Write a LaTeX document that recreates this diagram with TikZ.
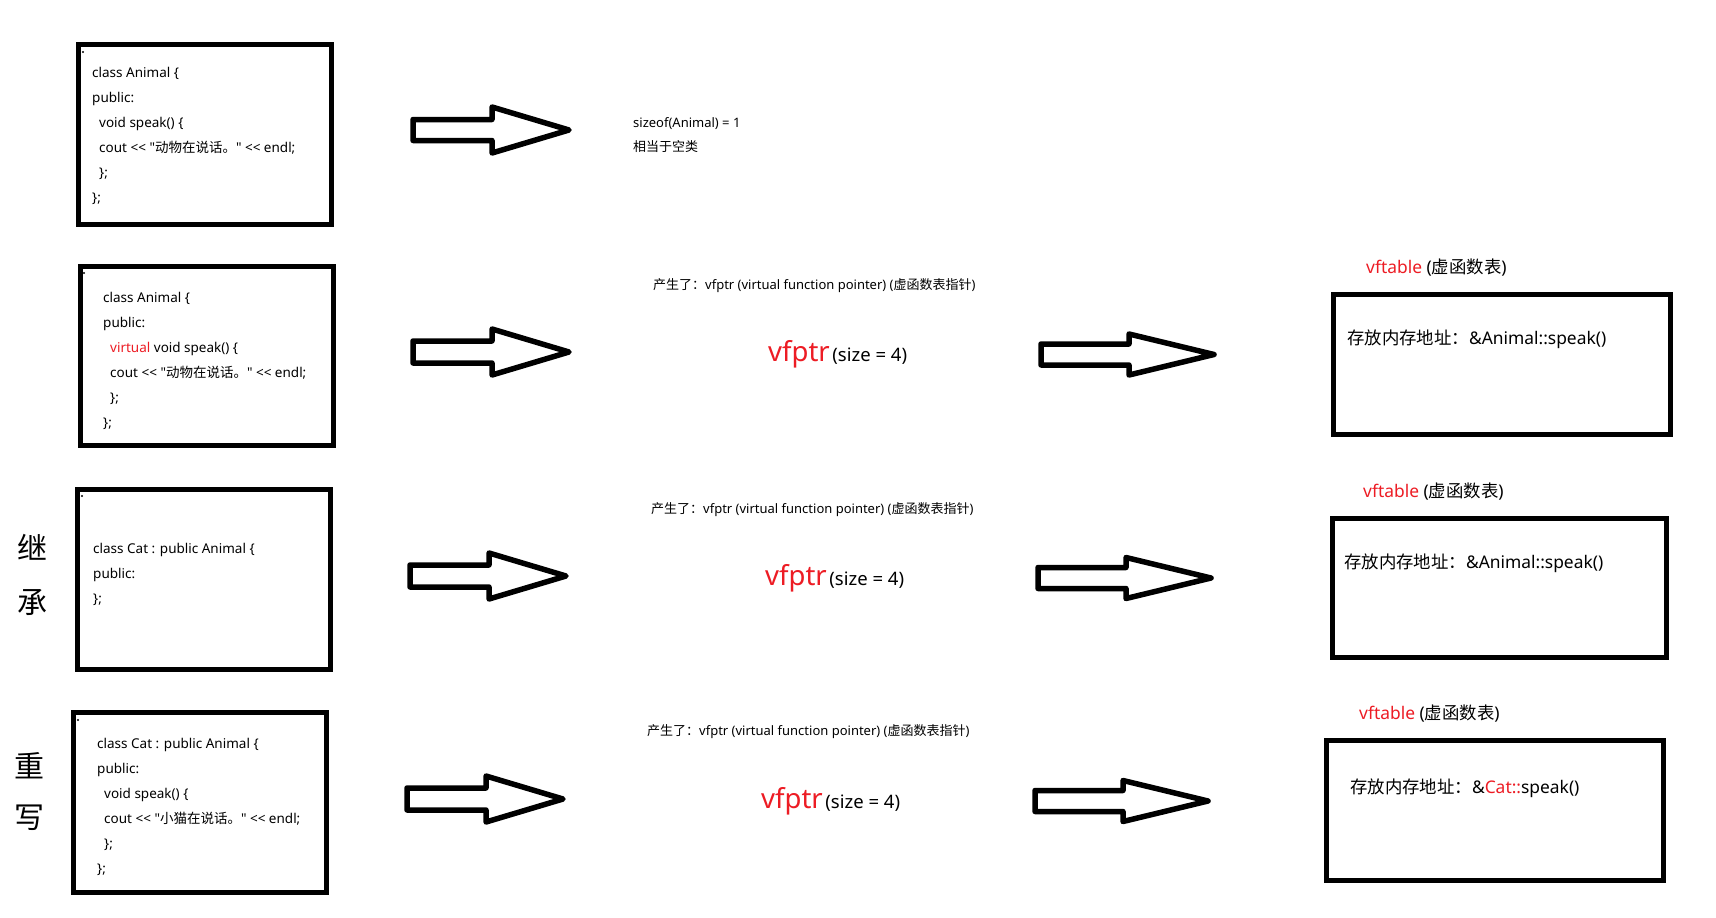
\documentclass[tikz,border=0pt]{standalone}
\usepackage{fontspec}
\newfontfamily\cjk{Noto Sans CJK SC}
\newfontfamily\lat{Noto Sans}
\newcommand\zh[1]{{\cjk #1}}
\definecolor{vred}{RGB}{237,28,36}
\tikzset{
  box/.style={draw, line width=5pt},
  blk/.style={draw, line width=5.5pt, line join=round},
  code/.style={font=\lat\fontsize{13.5}{16}\selectfont, anchor=base west, inner sep=0pt},
  note/.style={font=\lat\fontsize{13}{15}\selectfont, anchor=base west, inner sep=0pt},
  ptr/.style={font=\lat\fontsize{13}{15}\selectfont, anchor=base west, inner sep=0pt},
  big/.style={font=\lat, anchor=base west, inner sep=0pt},
  tbl/.style={font=\lat\fontsize{17.4}{20}\selectfont, anchor=base west, inner sep=0pt},
  side/.style={font=\cjk\fontsize{30}{34}\selectfont, anchor=base, inner sep=0pt},
}
\newcommand\blockarrow[6]{%
  \draw[blk] (#1,#4-#5) -- (#2,#4-#5) -- (#2,#4-#6) -- (#3,#4) -- (#2,#4+#6) -- (#2,#4+#5) -- (#1,#4+#5) -- cycle;}
\newcommand\vfptrtext{{\color{vred}\fontsize{27.5}{30}\selectfont vfptr} {\fontsize{18.5}{21}\selectfont (size = 4)}}
\newcommand\ptrline{\zh{产生了：}vfptr (virtual function pointer) (\zh{虚函数表指针})}
\newcommand\vftabtext{{\color{vred}vftable} (\zh{虚函数表})}
\begin{document}
\begin{tikzpicture}[x=1pt,y=-1pt]
\useasboundingbox[fill=white] (0,0) rectangle (1716,918);

% ---------- left boxes ----------
\draw[box] (78.5,44.5) rectangle (331.5,224.5);
\draw[box] (80.5,266.5) rectangle (333.5,445.5);
\draw[box] (77.5,489.5) rectangle (330.5,669.5);
\draw[box] (73.5,712.5) rectangle (326.5,892.5);
\fill (83,52) circle (1.1);
\fill (84,273) circle (1.1);
\fill (82,496) circle (1.1);
\fill (78,720) circle (1.1);

% row 1 code
\node[code] (a1) at (92,77) {class Animal \{};
\node[code] (a2) at (92,102) {public:};
\node[code] (a3) at (99,127) {void speak() \{};
\node[code] (a4) at (99,152) {cout << "\zh{动物在说话。}" << endl;};
\node[code] (a5) at (99,177) {\};};
\node[code] (a6) at (92,202) {\};};

% row 2 code
\node[code] (b1) at (103,302) {class Animal \{};
\node[code] (b2) at (103,327) {public:};
\node[code] (b3) at (110,352) {\textcolor{vred}{virtual} void speak() \{};
\node[code] (b4) at (110,377) {cout << "\zh{动物在说话。}" << endl;};
\node[code] (b5) at (110,402) {\};};
\node[code] (b6) at (103,427) {\};};

% row 3 code
\node[code] (c1) at (93,553) {class Cat : public Animal \{};
\node[code] (c2) at (93,578) {public:};
\node[code] (c3) at (93,603) {\};};

% row 4 code
\node[code] (d1) at (97,748) {class Cat : public Animal \{};
\node[code] (d2) at (97,773) {public:};
\node[code] (d3) at (104,798) {void speak() \{};
\node[code] (d4) at (104,823) {cout << "\zh{小猫在说话。}" << endl;};
\node[code] (d5) at (104,848) {\};};
\node[code] (d6) at (97,873) {\};};

% side labels
\node[side] (s1) at (32,559) {继};
\node[side] (s2) at (32,613) {承};
\node[side] (s3) at (29,777) {重};
\node[side] (s4) at (29,828) {写};

% ---------- left arrows ----------
\blockarrow{413}{492}{569}{130}{10.5}{23}
\blockarrow{413}{492}{569}{352}{11}{23}
\blockarrow{410}{489}{566}{576}{11}{23}
\blockarrow{407}{486}{563}{799}{11}{23}

% ---------- middle texts ----------
\node[note] (n1) at (633,127.5) {sizeof(Animal) = 1};
\node[note] (n2) at (633,151.5) {\zh{相当于空类}};

\node[ptr] (p2) at (653,289) {\ptrline};
\node[ptr] (p3) at (651,513) {\ptrline};
\node[ptr] (p4) at (647,735) {\ptrline};

\node[big] (v2) at (768,361) {\vfptrtext};
\node[big] (v3) at (765,585) {\vfptrtext};
\node[big] (v4) at (761,808) {\vfptrtext};

% ---------- right arrows ----------
\blockarrow{1041}{1129}{1214}{354.5}{10.5}{20.5}
\blockarrow{1038}{1126}{1211}{578}{10.5}{20.5}
\blockarrow{1035}{1123}{1208}{801}{10.5}{20.5}

% ---------- right boxes ----------
\node[tbl] (t2) at (1366,273) {\vftabtext};
\node[tbl] (t3) at (1363,497) {\vftabtext};
\node[tbl] (t4) at (1359,719) {\vftabtext};

\draw[box] (1333.5,294.5) rectangle (1670.5,434.5);
\draw[box] (1332.5,518.5) rectangle (1666.5,657.5);
\draw[box] (1326.5,740.5) rectangle (1663.5,880.5);

\node[tbl] (r2) at (1347,344) {\zh{存放内存地址：}\&Animal::speak()};
\node[tbl] (r3) at (1344,568) {\zh{存放内存地址：}\&Animal::speak()};
\node[tbl] (r4) at (1350,793) {\zh{存放内存地址：}\&\textcolor{vred}{Cat::}speak()};
\end{tikzpicture}
\end{document}
